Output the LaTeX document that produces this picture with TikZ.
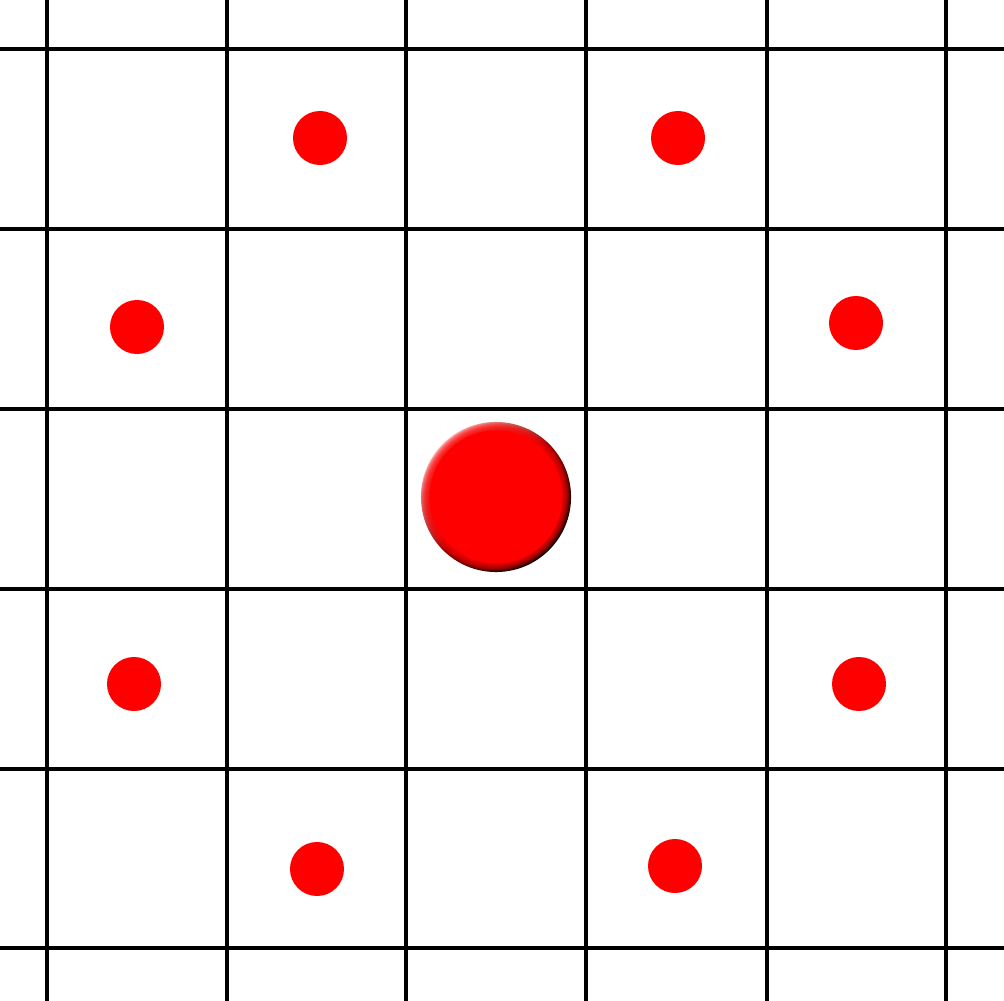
\documentclass[tikz,border=0pt]{standalone}
\begin{document}
\begin{tikzpicture}[x=0.01cm,y=-0.01cm,
  gridline/.style={line width=1pt,black},
  dot/.style={circle,fill=red,inner sep=0pt,minimum size=0.54cm},
  bigball/.style={circle,inner sep=0pt,minimum size=1.5cm,
    path picture={
      \shade[top color=red!35!white,bottom color=black,middle color=red!60!black,shading angle=45]
        (path picture bounding box.south west) rectangle (path picture bounding box.north east);
      \foreach \r in {0.74,0.73,0.72,0.71,0.70,0.69,0.68,0.67}
        \fill[red,opacity=0.2] (path picture bounding box.center) circle[radius=\r cm];
      \fill[red] (path picture bounding box.center) circle[radius=0.665cm];
    }}]
\useasboundingbox (0,0) rectangle (1004,1001);
\foreach \x in {47,227,406,586,767,946}
  \draw[gridline] (\x,0) -- (\x,1001);
\foreach \y in {49,229,409,589,769,948}
  \draw[gridline] (0,\y) -- (1004,\y);
\node[bigball] (ball) at (496,497) {};
\node[dot] (d1) at (320,138) {};
\node[dot] (d2) at (678,138) {};
\node[dot] (d3) at (137,327) {};
\node[dot] (d4) at (856,323) {};
\node[dot] (d5) at (134,684) {};
\node[dot] (d6) at (859,684) {};
\node[dot] (d7) at (317,869) {};
\node[dot] (d8) at (675,866) {};
\end{tikzpicture}
\end{document}
